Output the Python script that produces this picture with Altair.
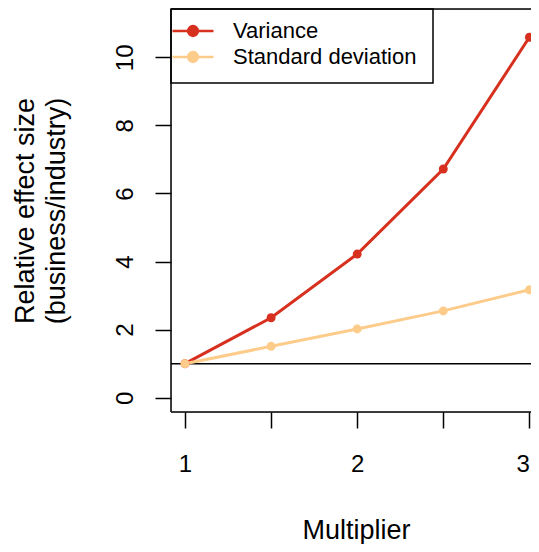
import altair as alt
import pandas as pd

multiplier = [1.0, 1.5, 2.0, 2.5, 3.0]
variance = [1.0, 2.35, 4.22, 6.72, 10.59]
std_dev = [1.0, 1.51, 2.02, 2.55, 3.17]
series_names = ["Variance", "Standard deviation"]
series_colors = ["#D7301F", "#FDCC8A"]
x_ticks = [1, 1.5, 2, 2.5, 3]
y_ticks = [0, 2, 4, 6, 8, 10]
baseline_value = [1.0]

rows = []
for name, vals in zip(series_names, [variance, std_dev]):
    for m, v in zip(multiplier, vals):
        rows.append({"multiplier": m, "value": v, "series": name})
df = pd.DataFrame(rows)

W, H = 360, 403
FONT = "Liberation Sans"

xscale = alt.Scale(domain=[0.9187, 3.0093], nice=False, zero=False)
yscale = alt.Scale(domain=[-0.42, 11.42], nice=False, zero=False)

legend_path = ("M-1,0L1,0M0.24,0A0.24,0.24,0,1,1,-0.24,0"
               "A0.24,0.24,0,1,1,0.24,0Z")

color = alt.Color(
    "series:N",
    scale=alt.Scale(domain=series_names, range=series_colors),
    legend=alt.Legend(
        title=None, orient="none", legendX=0, legendY=9,
        symbolType=legend_path, symbolSize=1681, symbolStrokeWidth=2.5,
        labelFont=FONT, labelFontSize=22, labelColor="black",
        labelOffset=18, clipHeight=26, rowPadding=0, padding=0,
        labelLimit=400,
    ),
)

x_enc = alt.X(
    "multiplier:Q", scale=xscale,
    axis=alt.Axis(
        values=x_ticks, grid=False, domain=False, tickSize=16, tickWidth=1.5,
        tickColor="black", labelColor="black", labelFont=FONT, labelFontSize=24,
        labelBaseline="top", labelPadding=24, labelFlush=5,
        labelExpr="datum.value % 1 == 0 ? format(datum.value, 'd') : ''",
        title="Multiplier", titleFont=FONT, titleFontSize=27, titleFontWeight="normal",
        titleColor="black", titleBaseline="alphabetic", titleAlign="center",
        titleX=185, titleY=126,
    ),
)
y_enc = alt.Y(
    "value:Q", scale=yscale,
    axis=alt.Axis(
        values=y_ticks, grid=False, domain=False, tickSize=16, tickWidth=1.5,
        tickColor="black", labelColor="black", labelFont=FONT, labelFontSize=24,
        labelAngle=270, labelAlign="center", labelBaseline="alphabetic",
        labelPadding=23, labelFlush=False,
        title=["Relative effect size", "(business/industry)"],
        titleFont=FONT, titleFontSize=27, titleFontWeight="normal", titleColor="black",
        titleAngle=270, titleAlign="center", titleBaseline="alphabetic",
        titleLineHeight=31, titleX=-138, titleY=201.5,
    ),
)

dummy = alt.Data(values=[{"a": 1}])

box_legend = alt.Chart(dummy).mark_rect(fill="white", stroke="black", strokeWidth=1.5).encode(
    x=alt.value(0), x2=alt.value(262), y=alt.value(0), y2=alt.value(74)
)
frame_top = alt.Chart(dummy).mark_rule(color="black", strokeWidth=1.5).encode(
    x=alt.value(0), x2=alt.value(W), y=alt.value(0)
)
frame_left = alt.Chart(dummy).mark_rule(color="black", strokeWidth=1.5).encode(
    x=alt.value(0), y=alt.value(0), y2=alt.value(H)
)
frame_bottom = alt.Chart(dummy).mark_rule(color="black", strokeWidth=1.5).encode(
    x=alt.value(0), x2=alt.value(W), y=alt.value(H)
)

hline = alt.Chart(pd.DataFrame({"y": baseline_value})).mark_rule(
    color="black", strokeWidth=1.5
).encode(y=alt.Y("y:Q", scale=yscale))

base = alt.Chart(df).encode(x=x_enc, y=y_enc, color=color)
lines = base.mark_line(strokeWidth=3)
points = base.mark_point(filled=True, size=80, opacity=1)

chart = alt.layer(
    hline, lines, points, box_legend, frame_top, frame_left, frame_bottom
).properties(
    width=W, height=H,
    padding={"left": 163, "top": 1, "right": 0, "bottom": 132},
    autosize=alt.AutoSizeParams(type="none"),
).configure_view(stroke=None).configure(background="white")

chart.save("out.html", embed_options={"renderer": "svg", "actions": False})
